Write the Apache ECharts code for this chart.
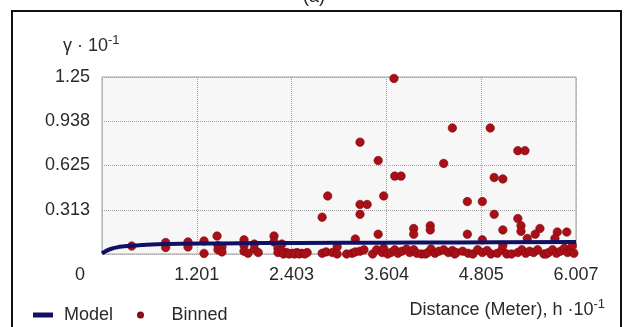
<!DOCTYPE html>
<html>
<head>
<meta charset="utf-8">
<script src="https://cdn.jsdelivr.net/npm/echarts@6/dist/echarts.min.js"></script>
<style>
  html, body { margin: 0; padding: 0; background: #ffffff; }
  #chart { width: 624px; height: 327px; }
</style>
</head>
<body>
<div id="chart"></div>
<script>
// Semivariogram: fitted model curve and binned empirical values
var FONT = '"Liberation Sans", Arial, sans-serif';

var xTickLabels = ['0', '1.201', '2.403', '3.604', '4.805', '6.007'];
var yTickLabels = ['0', '0.313', '0.625', '0.938', '1.25'];
var xMax = 6.007;
var xStep = 1.2014;
var yMax = 1.25;
var yStep = 0.3125;

// Fitted model (distance, gamma)
var modelPoints = [
  [0, 0.004], [0.06, 0.024], [0.12, 0.037], [0.19, 0.047], [0.28, 0.054],
  [0.38, 0.059], [0.5, 0.063], [0.7, 0.068], [1.0, 0.072], [1.5, 0.075],
  [2.0, 0.077], [3.0, 0.079], [4.0, 0.081], [5.0, 0.083], [6.007, 0.085]
];

// Binned empirical semivariogram values (distance, gamma)
var binnedPoints = [
  [0.376, 0.056],
  [0.807, 0.081], [0.807, 0.046],
  [1.09, 0.085], [1.09, 0.050],
  [1.293, 0.092], [1.293, 0.004],
  [1.458, 0.127], [1.47, 0.06], [1.47, 0.03], [1.52, 0.05], [1.52, 0.015],
  [1.80, 0.10], [1.80, 0.06], [1.80, 0.02], [1.85, 0.005],
  [1.93, 0.07], [1.93, 0.035], [1.98, 0.01],
  [2.18, 0.127], [2.18, 0.085], [2.23, 0.04], [2.23, 0.01], [2.28, 0.07], [2.28, 0.02],
  [2.34, 0.01], [2.41, 0.005], [2.47, 0.01], [2.53, 0.005], [2.60, 0.01],
  [2.30, 0.0], [2.37, 0.0], [2.44, 0.0], [2.50, 0.0], [2.57, 0.0],
  [2.79, 0.26], [2.86, 0.41],
  [2.79, 0.005], [2.84, 0.015], [2.92, 0.01], [2.98, 0.05], [2.98, 0.0],
  [3.10, 0.0], [3.17, 0.005], [3.21, 0.015], [3.27, 0.02], [3.32, 0.03], [3.21, 0.106],
  [3.27, 0.79], [3.50, 0.66], [3.71, 0.55], [3.79, 0.55], [3.57, 0.41],
  [3.27, 0.35], [3.36, 0.35], [3.27, 0.28], [3.50, 0.14],
  [3.43, 0.0], [3.48, 0.03], [3.55, 0.01], [3.57, 0.04], [3.62, 0.0],
  [3.66, 0.01], [3.71, 0.03], [3.75, 0.005], [3.80, 0.02], [3.86, 0.035],
  [3.90, 0.01], [3.95, 0.03], [3.99, 0.005], [4.05, 0.0], [4.10, 0.0],
  [3.95, 0.18], [3.95, 0.14], [4.16, 0.20], [4.16, 0.17],
  [4.13, 0.01], [4.17, 0.035], [4.22, 0.005], [4.27, 0.02], [4.33, 0.03],
  [4.39, 0.01], [4.44, 0.025], [4.47, 0.0],
  [4.33, 0.64], [3.70, 1.24], [4.44, 0.89],
  [4.92, 0.89], [5.27, 0.73], [5.36, 0.73], [4.97, 0.54], [5.08, 0.53],
  [4.63, 0.37], [4.82, 0.37], [4.97, 0.28], [5.27, 0.25], [5.08, 0.17],
  [5.31, 0.20], [5.31, 0.16], [4.63, 0.14], [5.55, 0.18], [5.49, 0.14],
  [5.77, 0.155], [5.89, 0.155], [5.74, 0.11], [5.39, 0.11], [4.82, 0.10],
  [4.49, 0.01], [4.57, 0.02], [4.64, 0.005], [4.70, 0.0],
  [4.76, 0.03], [4.82, 0.01], [4.88, 0.025], [4.93, 0.0],
  [5.01, 0.005], [5.07, 0.03], [5.08, 0.06], [5.13, 0.0], [5.19, 0.0],
  [5.27, 0.01], [5.32, 0.03], [5.37, 0.005], [5.42, 0.02], [5.47, 0.01], [5.52, 0.03],
  [5.60, 0.0], [5.63, 0.0],
  [5.66, 0.01], [5.71, 0.03], [5.76, 0.005], [5.81, 0.02], [5.86, 0.04],
  [5.90, 0.01], [5.94, 0.03], [5.98, 0.005], [5.96, 0.06]
];

var chart = echarts.init(document.getElementById('chart'), null, { renderer: 'canvas' });

var dotted = { type: 'dotted', color: '#a2a2a2', width: 1 };
var labelStyle = { color: '#2a2a2a', fontFamily: FONT, fontSize: 18 };

chart.setOption({
  animation: false,
  backgroundColor: '#ffffff',
  grid: {
    left: 102, top: 77, right: 48, bottom: 73,
    show: true,
    backgroundColor: '#f7f7f7',
    borderColor: '#a4a4a4',
    borderWidth: 1
  },
  xAxis: {
    type: 'value',
    min: 0, max: xMax, interval: xStep,
    axisLine: { show: false },
    axisTick: { show: false },
    splitLine: { show: true, lineStyle: dotted },
    axisLabel: Object.assign({
      showMinLabel: false,
      margin: 12,
      formatter: function (v) { return xTickLabels[Math.round(v / xStep)]; }
    }, labelStyle)
  },
  yAxis: {
    type: 'value',
    min: 0, max: yMax, interval: yStep,
    axisLine: { show: false },
    axisTick: { show: false },
    splitLine: { show: true, lineStyle: dotted },
    axisLabel: Object.assign({
      showMinLabel: false,
      margin: 12,
      formatter: function (v) { return yTickLabels[Math.round(v / yStep)]; }
    }, labelStyle)
  },
  legend: [
    {
      left: 28, top: 301,
      itemWidth: 20, itemHeight: 5,
      textStyle: { color: '#2a2a2a', fontFamily: FONT, fontSize: 18, padding: [0, 0, 0, 6] },
      data: [{ name: 'Model', icon: 'rect' }]
    },
    {
      left: 132, top: 301,
      itemWidth: 20, itemHeight: 5,
      textStyle: { color: '#2a2a2a', fontFamily: FONT, fontSize: 18, padding: [0, 0, 0, 16] },
      data: [{ name: 'Binned', icon: 'circle' }]
    }
  ],
  series: [
    {
      name: 'Binned',
      type: 'scatter',
      data: binnedPoints,
      symbol: 'circle',
      symbolSize: 8.5,
      clip: false,
      itemStyle: { color: '#a80f17', borderColor: '#7e0a10', borderWidth: 0.6, opacity: 1 },
      z: 2
    },
    {
      name: 'Model',
      type: 'line',
      data: modelPoints,
      smooth: true,
      showSymbol: false,
      symbol: 'none',
      lineStyle: { color: '#111163', width: 4 },
      itemStyle: { color: '#111163' },
      z: 3
    }
  ],
  graphic: [
    {
      type: 'rect',
      shape: { x: 12, y: 11, width: 609, height: 340 },
      style: { fill: null, stroke: '#111111', lineWidth: 2 },
      silent: true
    },
    {
      type: 'text', x: 314, y: -3,
      style: { text: '(a)', fill: '#222', font: '18px ' + FONT, align: 'center', verticalAlign: 'middle' }
    },
    {
      type: 'text', x: 63, y: 46,
      style: {
        text: '{m|γ · 10}{s|-1}',
        align: 'left', verticalAlign: 'middle',
        rich: {
          m: { fill: '#2a2a2a', fontFamily: FONT, fontSize: 18, lineHeight: 24 },
          s: { fill: '#2a2a2a', fontFamily: FONT, fontSize: 13, lineHeight: 6, verticalAlign: 'top' }
        }
      }
    },
    {
      type: 'text', x: 80, y: 275,
      style: { text: '0', fill: '#2a2a2a', font: '18px ' + FONT, align: 'center', verticalAlign: 'middle' }
    },
    {
      type: 'text', x: 605, y: 310,
      style: {
        text: '{m|Distance (Meter), h ·10}{s|-1}',
        align: 'right', verticalAlign: 'middle',
        rich: {
          m: { fill: '#2a2a2a', fontFamily: FONT, fontSize: 18, lineHeight: 24 },
          s: { fill: '#2a2a2a', fontFamily: FONT, fontSize: 13, lineHeight: 6, verticalAlign: 'top' }
        }
      }
    }
  ]
});
</script>
</body>
</html>
